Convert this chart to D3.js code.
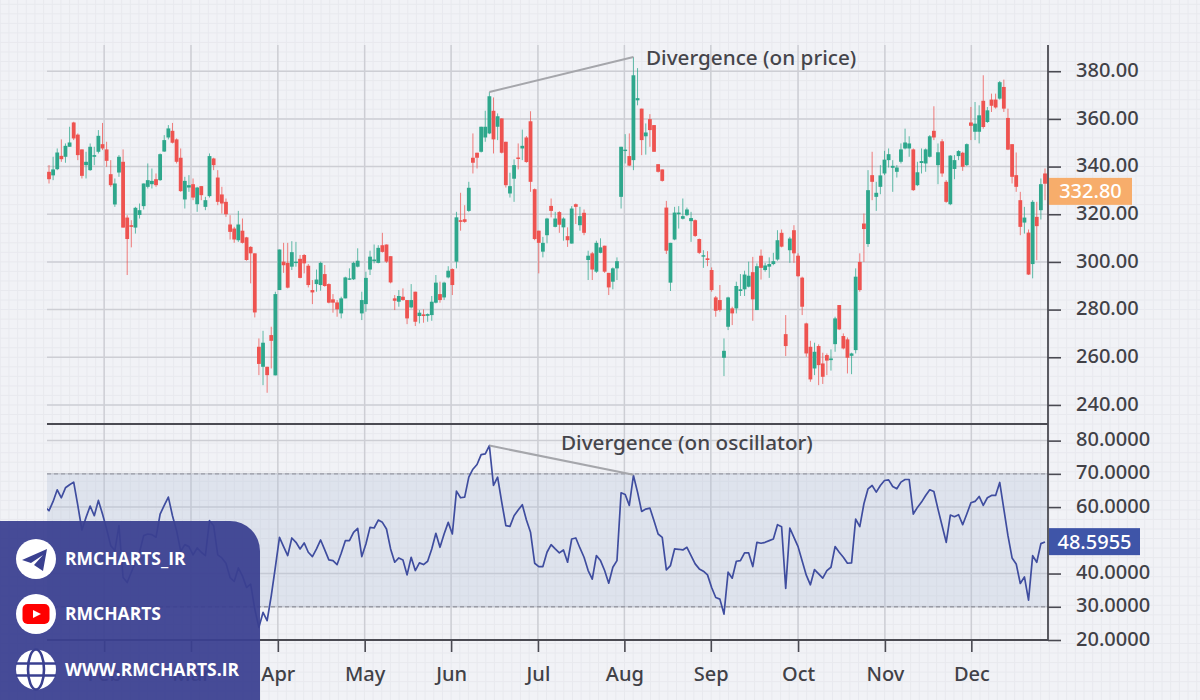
<!DOCTYPE html>
<html>
<head>
<meta charset="utf-8">
<script src="https://cdn.jsdelivr.net/npm/d3@7"></script>
<style>
  html, body { margin: 0; padding: 0; background: #f1f2f7; }
  svg { display: block; }
  text { font-family: "Noto Sans", sans-serif; }
</style>
</head>
<body>
<div id="chart"></div>
<script>
var opens = [
  337.8,336.3,338.9,344.5,344.1,348.3,358.5,353.4,347.2,340.6,
  338.5,344.1,346.2,349.4,347.2,336.8,324.1,337.5,342.0,318.6,
  315.4,314.4,319.7,323.4,331.5,332.6,334.7,334.3,346.3,352.2,
  355.0,351.4,343.7,326.2,331.2,332.6,324.2,331.8,323.1,327.6,
  343.4,335.4,328.3,325.2,315.7,314.0,309.1,313.1,310.3,306.3,
  303.6,264.4,256.0,256.0,269.3,252.4,288.2,300.1,299.6,298.0,
  299.6,301.3,302.9,298.4,288.2,290.7,290.3,294.9,290.7,284.3,
  283.0,278.4,284.7,292.7,292.7,298.0,278.4,282.3,296.8,300.3,
  299.6,307.0,307.3,302.4,284.7,283.3,285.4,284.0,280.9,287.5,
  277.3,278.0,277.4,277.7,282.9,286.5,285.1,293.5,297.0,300.1,
  317.5,317.9,321.4,343.7,345.8,346.2,352.2,353.9,363.4,356.7,
  360.2,350.4,328.7,334.9,343.8,347.6,352.2,359.0,330.5,313.1,
  304.3,311.2,323.5,314.7,320.9,314.5,310.8,307.7,324.2,315.4,
  320.6,300.8,303.6,295.9,303.8,306.8,295.4,291.7,297.3,327.3,
  346.6,344.4,342.7,367.8,364.3,352.7,359.9,357.4,341.0,338.8,
  322.8,291.3,309.4,320.0,318.1,319.6,317.1,317.5,309.6,302.2,
  301.5,296.6,285.1,284.0,259.8,272.8,280.5,280.5,287.8,288.5,
  289.6,295.7,279.8,302.6,296.6,298.0,299.1,301.0,312.2,269.7,
  304.9,313.3,302.6,293.4,274.2,264.4,255.3,264.7,257.4,260.9,
  258.8,265.5,281.9,268.9,267.5,260.6,263.0,300.0,316.1,307.5,
  336.4,327.3,331.5,337.1,342.7,339.5,337.8,342.0,347.6,347.6,
  347.2,332.2,341.5,341.3,344.1,355.0,340.6,350.6,333.6,324.2,
  339.0,344.4,345.8,340.6,358.5,354.6,354.6,367.6,358.7,368.1,
  368.1,368.5,373.4,360.4,349.4,336.4,325.9,316.5,312.3,299.1,
  318.9,321.7,337.1];

var closes = [
  334.7,338.8,345.9,343.1,348.7,350.1,351.8,344.8,336.1,342.0,
  348.3,344.8,352.9,347.6,342.4,332.2,332.9,344.1,314.4,309.6,
  314.7,322.7,321.7,332.9,334.3,334.0,332.2,345.2,351.1,356.0,
  350.0,342.0,329.7,334.0,332.2,327.0,331.2,328.0,325.9,344.4,
  340.6,325.2,324.5,320.0,312.6,309.4,315.7,308.0,300.8,303.6,
  278.8,257.2,266.1,252.5,266.9,286.5,305.2,298.6,289.2,304.1,
  300.1,293.3,299.4,290.3,287.2,292.6,299.6,289.9,282.9,282.9,
  280.1,284.7,293.5,293.1,299.6,300.5,284.0,293.3,302.2,301.0,
  305.9,304.2,300.1,291.4,283.7,285.7,284.0,276.3,284.0,274.9,
  278.7,277.3,278.1,283.3,291.3,284.0,291.3,296.3,290.3,318.7,
  316.8,316.8,331.1,341.6,343.7,356.7,356.7,369.5,351.4,361.1,
  345.8,332.2,331.8,340.6,343.2,348.7,341.9,333.6,309.6,308.0,
  308.0,318.2,321.4,318.2,315.6,318.2,309.1,322.4,323.1,319.2,
  312.2,302.6,296.8,308.0,306.1,295.9,289.3,297.3,300.3,348.3,
  347.1,340.4,378.3,368.7,351.1,354.3,355.3,346.2,337.8,334.0,
  304.7,308.0,320.7,320.7,319.2,322.0,318.4,310.9,303.8,302.8,
  300.8,288.2,279.5,279.8,262.7,285.1,278.4,289.9,288.5,294.7,
  294.2,284.3,298.2,297.5,298.5,299.1,300.3,309.1,306.4,264.7,
  309.8,303.6,294.0,281.2,261.6,250.7,262.3,256.7,251.8,258.6,
  259.5,276.3,271.7,263.7,259.8,261.6,293.8,288.2,313.8,330.1,
  333.6,329.0,336.3,342.9,345.2,340.3,339.6,347.2,350.1,349.7,
  330.1,337.6,342.3,347.2,352.7,352.2,346.0,337.1,325.2,344.6,
  342.7,346.5,339.9,349.4,357.1,358.0,361.5,356.6,363.6,365.5,
  364.8,375.4,364.3,347.1,335.7,331.5,314.7,318.6,294.7,325.2,
  315.0,332.6,332.8];

var highs = [
  340.6,344.1,347.6,351.4,349.7,356.7,358.8,353.9,347.2,346.2,
  349.7,348.3,355.3,358.3,350.4,342.7,335.0,344.8,347.2,319.6,
  317.5,323.1,324.5,332.9,341.3,339.2,337.1,345.5,353.2,357.4,
  358.3,351.8,347.6,335.7,336.4,335.0,331.5,331.8,327.3,345.5,
  343.7,338.5,331.5,326.6,319.6,314.7,321.4,318.2,310.5,306.6,
  303.6,267.9,271.1,256.0,272.8,287.5,305.2,308.0,308.0,308.7,
  308.4,302.9,303.3,299.1,292.4,296.8,300.1,298.7,291.0,286.5,
  284.0,285.4,293.8,297.3,300.1,305.7,287.5,295.9,304.7,307.3,
  307.0,312.2,307.3,302.4,286.1,288.2,288.9,284.0,290.7,287.5,
  279.8,280.1,278.4,285.7,294.5,291.7,291.7,298.2,297.3,321.0,
  329.0,323.8,333.6,353.9,345.8,356.7,363.4,371.3,369.0,362.3,
  360.2,350.4,337.4,343.0,349.7,355.5,352.8,363.2,330.8,313.1,
  310.5,318.5,326.6,321.0,321.3,318.7,314.5,323.4,324.5,323.1,
  322.0,304.7,304.2,308.9,309.9,306.8,295.4,297.7,301.9,348.3,
  353.6,353.9,386.0,381.3,364.3,358.1,362.0,357.4,341.0,338.8,
  325.6,308.0,323.1,323.4,326.6,322.8,321.0,317.8,309.8,304.9,
  304.5,297.7,285.7,290.3,267.9,285.4,281.2,291.7,294.9,296.3,
  300.1,302.1,299.4,305.2,299.6,301.9,303.8,313.3,313.6,277.7,
  310.5,315.4,303.6,293.8,274.5,266.9,266.1,265.4,261.9,261.6,
  263.3,277.0,281.9,270.0,268.3,261.9,297.3,303.6,320.3,338.5,
  346.2,333.6,340.6,346.6,347.6,342.7,340.6,349.7,355.9,352.7,
  347.6,342.0,347.6,347.6,353.2,365.3,349.7,351.5,334.3,344.8,
  344.8,346.9,346.2,349.7,365.0,367.1,365.7,378.3,365.0,370.6,
  370.6,375.9,376.5,364.3,349.4,345.9,329.4,323.1,313.6,325.9,
  325.2,335.0,339.2];

var lows = [
  332.9,334.3,338.5,342.0,341.6,348.3,351.1,342.7,335.0,335.0,
  338.2,340.6,345.5,346.9,339.9,331.5,323.1,335.7,314.4,294.5,
  306.1,311.9,318.2,322.0,330.8,330.8,331.5,334.0,346.2,351.4,
  349.7,341.3,329.4,322.4,329.4,325.9,321.0,325.9,321.7,327.0,
  338.5,323.8,320.3,318.9,309.4,308.0,308.4,307.7,300.5,291.0,
  276.7,252.5,248.3,245.1,255.3,252.4,288.2,295.4,288.9,296.6,
  298.0,293.1,295.2,289.3,282.3,287.5,287.9,289.6,282.6,278.7,
  277.0,276.3,284.7,292.4,292.4,297.7,275.6,279.1,294.5,299.4,
  299.4,303.9,299.6,291.0,279.8,281.2,283.7,273.9,280.5,273.1,
  274.2,274.5,274.9,275.3,282.6,282.9,284.0,293.1,286.1,297.3,
  313.1,316.4,321.0,337.1,339.2,345.9,350.4,353.6,345.5,351.1,
  345.5,331.2,327.0,325.2,338.8,342.7,341.6,329.4,309.1,295.2,
  301.9,307.8,318.7,314.5,312.2,308.9,306.3,307.7,315.9,313.1,
  311.2,292.4,292.4,295.4,303.6,295.4,286.1,288.5,292.4,322.4,
  341.3,340.2,338.5,365.7,344.8,345.0,348.3,346.2,337.5,333.7,
  303.3,287.8,309.1,314.0,317.8,319.2,308.4,310.5,303.3,297.5,
  298.2,287.5,277.0,279.1,252.1,271.4,273.5,278.4,285.7,285.7,
  289.3,275.3,279.8,292.6,295.9,293.3,298.6,300.5,306.1,260.5,
  299.6,299.6,293.8,277.7,260.2,249.7,252.5,248.3,248.8,252.5,
  254.4,262.3,271.4,263.3,253.2,252.9,261.6,287.5,300.0,306.3,
  325.9,321.4,328.4,336.4,339.6,329.4,335.4,341.3,347.2,344.1,
  329.8,331.8,337.1,337.8,343.8,351.1,332.6,335.7,324.8,323.8,
  334.7,342.7,338.2,340.2,351.1,351.1,349.7,355.9,358.3,362.9,
  364.3,368.1,362.9,346.9,332.9,329.4,311.2,311.9,294.5,293.1,
  300.7,317.8,325.9];

// oscillator, first value sits one bar before the first candle
var rsiValues = [60.0,
  58.9,61.7,65.2,62.8,65.8,66.7,67.5,60.5,53.1,56.9,
  60.3,57.4,62.0,57.9,53.4,48.4,46.9,54.4,38.8,37.3,
  40.4,43.4,46.4,51.4,51.9,51.7,50.9,57.9,60.5,63.0,
  57.4,52.9,46.7,48.7,48.1,45.6,47.7,46.4,45.4,55.9,
  54.4,45.6,44.7,43.1,38.8,37.6,41.7,39.3,35.8,36.8,
  29.3,23.8,28.3,25.8,33.3,41.9,50.9,48.1,45.4,50.7,
  49.4,47.4,49.2,46.4,45.1,47.4,50.1,47.1,44.1,43.9,
  42.7,46.1,49.9,49.9,52.4,53.6,45.1,48.9,53.9,53.7,
  56.1,55.4,53.4,47.4,43.4,44.7,44.1,39.6,44.9,40.9,
  43.2,42.7,43.7,47.4,52.1,47.9,51.9,55.4,51.9,64.8,
  62.8,63.0,69.0,71.4,72.8,75.8,76.0,78.5,66.5,69.0,
  61.5,54.4,54.2,57.4,59.1,60.7,56.1,52.4,43.1,42.1,
  42.1,46.4,48.7,47.4,46.2,47.1,43.4,50.4,50.7,47.7,
  44.9,40.9,38.3,45.4,43.9,40.9,37.1,41.9,43.9,64.3,
  63.8,60.5,69.5,64.5,58.7,59.4,59.7,55.9,51.9,50.9,
  41.1,42.4,47.4,47.3,47.1,47.9,45.4,42.9,41.4,40.7,
  39.6,35.8,32.8,32.3,27.8,40.4,38.6,43.7,43.9,46.2,
  46.2,42.1,49.4,49.1,49.4,49.9,50.4,54.7,54.1,35.5,
  53.7,50.9,48.1,43.8,39.5,36.6,41.2,39.9,38.6,40.9,
  41.9,48.1,46.4,44.9,43.1,43.2,56.4,54.1,61.0,65.5,
  66.5,64.5,66.5,68.0,68.2,66.2,65.5,67.5,68.3,68.3,
  57.9,59.9,61.5,63.5,65.2,64.7,59.4,54.4,49.4,57.6,
  57.1,57.7,54.7,57.9,61.3,61.7,63.2,60.5,62.8,63.5,
  63.5,67.4,59.4,51.4,44.7,42.9,37.0,39.0,32.0,45.4,
  43.4,49.0,49.5];

var monthNames = ["Feb","Mar","Apr","May","Jun","Jul","Aug","Sep","Oct","Nov","Dec"];
var monthBars = [13.4,34.5,55.6,76.7,97.7,118.8,139.8,160.8,182,203.1,224.1];
var priceTicks = [240,260,280,300,320,340,360,380];
var rsiTicks = [20,30,40,60,70,80];
var rsiBand = [30,70];
var lastPrice = 332.80, lastRsi = 48.5955;
// where the tags sit on their axes, they are a bit off the printed value in the picture
var priceTagAt = 329.6, rsiTagAt = 49.6;
var priceDivBars = [107,142], priceDivVals = [371.3,386.0];
var rsiDivBars = [107,142], rsiDivVals = [78.5,69.7];

var width = 1200, height = 700,
    plotLeft = 47, plotRight = 1048, plotTop = 45, plotSplit = 424, plotBottom = 640;

var svg = d3.select("#chart").append("svg")
    .attr("width", width)
    .attr("height", height);

svg.append("rect").attr("width", width).attr("height", height).attr("fill", "#f1f2f6");

var x = d3.scaleLinear().domain([0, 242]).range([49, 1045]);
var yPrice = d3.scaleLinear().domain([232, 391]).range([plotSplit, plotTop]);
var yRsi = d3.scaleLinear().domain([20, 85]).range([plotBottom, plotSplit]);

svg.append("clipPath").attr("id", "rsiclip").append("rect")
    .attr("x", plotLeft).attr("y", plotSplit)
    .attr("width", plotRight - plotLeft).attr("height", plotBottom - plotSplit);

//faint paper grid all over the page
var minor = svg.append("g").attr("stroke", "#e8e9ee").attr("stroke-width", 1);
d3.range(-1, 140).forEach(function(i){
  var px = 104.3 + (i - 12) * 8.67;
  minor.append("line").attr("x1", px).attr("x2", px).attr("y1", 0).attr("y2", height);
});
d3.range(0, 75).forEach(function(i){
  var py = 4.3 + i * 9.54;
  minor.append("line").attr("x1", 0).attr("x2", width).attr("y1", py).attr("y2", py);
});

//major grid
var grid = svg.append("g").attr("stroke", "#cdced4").attr("stroke-width", 1.5);
monthBars.forEach(function(d){
  grid.append("line").attr("x1", x(d)).attr("x2", x(d)).attr("y1", plotTop).attr("y2", plotBottom);
});
priceTicks.forEach(function(d){
  grid.append("line").attr("x1", plotLeft).attr("x2", plotRight).attr("y1", yPrice(d)).attr("y2", yPrice(d));
});
rsiTicks.forEach(function(d){
  grid.append("line").attr("x1", plotLeft).attr("x2", plotRight).attr("y1", yRsi(d)).attr("y2", yRsi(d));
});

//overbought / oversold band
svg.append("rect")
    .attr("x", plotLeft).attr("width", plotRight - plotLeft)
    .attr("y", yRsi(rsiBand[1]))
    .attr("height", yRsi(rsiBand[0]) - yRsi(rsiBand[1]))
    .attr("fill", "#b4bfd8").attr("fill-opacity", 0.3);
rsiBand.forEach(function(d){
  svg.append("line")
    .attr("x1", plotLeft).attr("x2", plotRight).attr("y1", yRsi(d)).attr("y2", yRsi(d))
    .attr("stroke", "#9a9ca6").attr("stroke-width", 1.3).attr("stroke-dasharray", "4,3");
});

//candles
var red = "#ee5350", green = "#2ea78c";
var candle = svg.append("g").selectAll("g")
    .data(d3.range(opens.length))
    .enter().append("g");
candle.append("line")
    .attr("x1", function(i){ return x(i); })
    .attr("x2", function(i){ return x(i); })
    .attr("y1", function(i){ return yPrice(highs[i]); })
    .attr("y2", function(i){ return yPrice(lows[i]); })
    .attr("stroke-width", 1)
    .attr("stroke-opacity", 0.75)
    .attr("stroke", function(i){ return closes[i] >= opens[i] ? green : red; });
candle.append("rect")
    .attr("x", function(i){ return x(i) - 1.9; })
    .attr("width", 3.8)
    .attr("y", function(i){ return yPrice(Math.max(opens[i], closes[i])); })
    .attr("height", function(i){ return Math.max(1.4, Math.abs(yPrice(opens[i]) - yPrice(closes[i]))); })
    .attr("fill", function(i){ return closes[i] >= opens[i] ? green : red; });

//oscillator line
var rsiLine = d3.line()
    .x(function(d, i){ return x(i - 1); })
    .y(function(d){ return yRsi(d); });
svg.append("path")
    .datum(rsiValues)
    .attr("clip-path", "url(#rsiclip)")
    .attr("d", rsiLine)
    .attr("fill", "none")
    .attr("stroke", "#3f4d9f")
    .attr("stroke-width", 1.7)
    .attr("stroke-linejoin", "round");

//divergence annotations
function divLine(bars, vals, yScale){
  svg.append("line")
    .attr("x1", x(bars[0])).attr("y1", yScale(vals[0]))
    .attr("x2", x(bars[1])).attr("y2", yScale(vals[1]))
    .attr("stroke", "#a5a6ab").attr("stroke-width", 2);
}
divLine(priceDivBars, priceDivVals, yPrice);
divLine(rsiDivBars, rsiDivVals, yRsi);

svg.append("text").attr("x", 646).attr("y", 65)
    .attr("font-size", 20.7).attr("font-weight", 500).attr("fill", "#45454b")
    .text("Divergence (on price)");
svg.append("text").attr("x", 561).attr("y", 450)
    .attr("font-size", 20.7).attr("font-weight", 500).attr("fill", "#45454b")
    .text("Divergence (on oscillator)");

//axes
function styleAxis(g){
  g.select(".domain").remove();
  g.selectAll(".tick line").attr("stroke", "#4a4a52").attr("stroke-width", 1.6);
  g.selectAll(".tick text")
    .attr("fill", "#414147")
    .style("font-family", '"Noto Sans", sans-serif')
    .style("font-size", "20px")
    .style("font-weight", 500);
}

svg.append("g")
    .attr("transform", "translate(" + plotRight + ",0)")
    .call(d3.axisRight(yPrice).tickValues(priceTicks).tickSize(13).tickPadding(15).tickFormat(d3.format(".2f")))
    .call(styleAxis)
    .selectAll(".tick text").attr("dy", "0.27em");
svg.append("g")
    .attr("transform", "translate(" + plotRight + ",0)")
    .call(d3.axisRight(yRsi).tickValues(rsiTicks).tickSize(13).tickPadding(15).tickFormat(d3.format(".4f")))
    .call(styleAxis)
    .selectAll(".tick text").attr("dy", "0.25em");
svg.append("g")
    .attr("transform", "translate(0," + plotBottom + ")")
    .call(d3.axisBottom(x).tickValues(monthBars).tickSize(12).tickPadding(15)
      .tickFormat(function(d, i){ return monthNames[i]; }))
    .call(styleAxis);

var frame = svg.append("g").attr("stroke", "#4a4a52").attr("stroke-width", 1.8);
frame.append("line").attr("x1", plotRight).attr("x2", plotRight).attr("y1", plotTop).attr("y2", plotBottom);
frame.append("line").attr("x1", plotLeft).attr("x2", plotRight).attr("y1", plotSplit).attr("y2", plotSplit);
frame.append("line").attr("x1", plotLeft).attr("x2", plotRight).attr("y1", plotBottom).attr("y2", plotBottom);

//last value tags
function lastTag(yPos, label, fill, w){
  svg.append("rect").attr("x", 1049).attr("y", yPos - 13.5).attr("width", w).attr("height", 27).attr("fill", fill);
  svg.append("text").attr("x", 1049 + w / 2).attr("y", yPos + 7)
    .attr("text-anchor", "middle").attr("font-size", 20).attr("font-weight", 500)
    .attr("fill", "#fff").text(label);
}
lastTag(yPrice(priceTagAt), lastPrice.toFixed(2), "#f7ad6b", 83);
lastTag(yRsi(rsiTagAt), lastRsi.toFixed(4), "#3f55a8", 91);

//contact panel
var panel = svg.append("g");
panel.append("path")
    .attr("d", "M0,521 H230 A30,30 0 0 1 260,551 V700 H0 Z")
    .attr("fill", "#3a4090").attr("fill-opacity", 0.94);

var rowY = [559, 614, 669.5];
var rowText = ["RMCHARTS_IR", "RMCHARTS", "WWW.RMCHARTS.IR"];
rowY.forEach(function(cy, i){
  panel.append("circle").attr("cx", 36).attr("cy", cy).attr("r", 20).attr("fill", "#fff");
  panel.append("text").attr("x", 65).attr("y", cy + 6)
    .attr("font-size", 17.5).attr("font-weight", 700).attr("fill", "#fff")
    .style("font-family", '"Open Sans", sans-serif')
    .text(rowText[i]);
});

//telegram
var tg = panel.append("g").attr("transform", "translate(36," + rowY[0] + ")");
tg.append("path").attr("d", "M-14,1 L11,-10 L7,12 L-2,6 L7,-4 L-5,4 Z").attr("fill", "#3a4090");

//youtube
var yt = panel.append("g").attr("transform", "translate(36," + rowY[1] + ")");
yt.append("rect").attr("x", -13.5).attr("y", -10).attr("width", 27).attr("height", 20).attr("rx", 5).attr("fill", "#f00");
yt.append("path").attr("d", "M-3,-4 L5,0 L-3,4 Z").attr("fill", "#fff");

//globe
var gl = panel.append("g").attr("transform", "translate(36," + rowY[2] + ")")
    .attr("fill", "none").attr("stroke", "#3a4090").attr("stroke-width", 2.6);
gl.append("ellipse").attr("rx", 8).attr("ry", 20);
gl.append("line").attr("x1", -20).attr("x2", 20).attr("y1", -6).attr("y2", -6);
gl.append("line").attr("x1", -20).attr("x2", 20).attr("y1", 6).attr("y2", 6);
</script>
</body>
</html>
